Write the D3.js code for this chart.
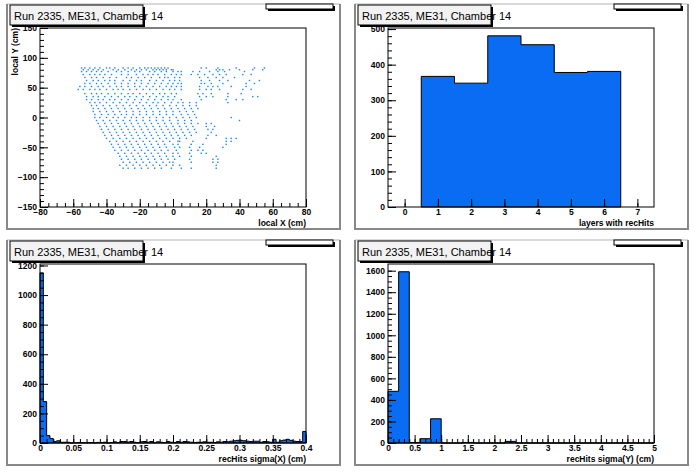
<!DOCTYPE html>
<html><head><meta charset="utf-8">
<script src="https://cdn.jsdelivr.net/npm/d3@7"></script>
<style>body{margin:0;background:#fff}svg{display:block}text{font-family:"Liberation Sans",Arial,sans-serif}</style>
</head><body>
<script>
const titleText = "Run 2335, ME31, Chamber 14";
// Scatter: rows of y with x values
const scatterRows = [
 [83,[-55,-53,-50,-47,-44,-40,-38,-35,-30,-27,-24,-20,-17,-15,-13,-11,-9,-7,-5,-3,17,20,27,38,49,55]],
 [80,[-54,-51,-48,-45,-42,-36,-33,-29,-25,-22,-19,-16,-12,-10,-8,-6,-4,-1,0,26,28,30,34,40,48,54]],
 [77,[-55,-52,-49,-46,-43,-39,-34,-31,-27,-23,-20,-14,-11,-7,-4,0,3,5,12,16,22,27,31,43]],
 [72,[-54,-50,-47,-44,-41,-37,-31,-27,-22,-18,-15,-12,-9,-5,-1,2,5,11,15,19,24,28,32,42,47]],
 [67,[-53,-49,-46,-42,-38,-34,-28,-25,-21,-17,-13,-8,-5,-3,1,4,16,21,26,30,37]],
 [62,[-52,-48,-45,-41,-38,-35,-30,-26,-22,-19,-14,-10,-6,-2,1,4,17,22,28,33,46,52]],
 [57,[-53,-50,-46,-43,-39,-35,-31,-27,-23,-19,-15,-11,-7,-3,0,3,5,17,19,23,30,44,49]],
 [52,[-56,-53,-49,-45,-42,-38,-34,-31,-27,-23,-20,-16,-12,-8,-4,-1,2,5,16,21,24,27,35,44]],
 [47,[-57,-54,-50,-47,-44,-40,-36,-33,-30,-26,-22,-18,-14,-10,-6,-2,1,5,16,20,23,28,42,47]],
 [40,[-53,-49,-46,-43,-39,-35,-31,-27,-24,-20,-16,-12,-8,-5,-1,2,15,18,23,33,41]],
 [35,[-52,-48,-45,-41,-37,-33,-29,-26,-22,-18,-14,-10,-6,-3,1,16,20,24,33,48,51]],
 [30,[-52,-49,-45,-42,-38,-35,-31,-27,-23,-19,-15,-11,-7,-3,0,5,17,32,38,42]],
 [25,[-50,-47,-44,-40,-36,-32,-28,-24,-20,-16,-12,-9,-5,-1,3,6,10,14,33]],
 [20,[-49,-46,-42,-38,-34,-30,-26,-22,-18,-14,-10,-6,-2,2,6,10,14]],
 [15,[-48,-45,-41,-37,-33,-29,-25,-21,-17,-13,-9,-5,-1,3,7,11,15]],
 [10,[-48,-44,-40,-36,-32,-28,-24,-20,-16,-12,-8,-4,0,4,8,12]],
 [5,[-47,-43,-39,-35,-31,-28,-24,-20,-16,-12,-8,-4,0,5,9,13]],
 [0,[-47,-44,-40,-36,-33,-29,-25,-22,-18,-14,-10,-6,-2,2,6,10,14,35]],
 [-5,[-46,-42,-38,-34,-30,-26,-22,-18,-14,-10,-6,-2,3,7,11,40]],
 [-10,[-45,-41,-37,-33,-29,-25,-21,-17,-13,-9,-5,-1,3,7,11,15,20,23]],
 [-15,[-44,-40,-36,-32,-28,-24,-20,-16,-12,-8,-4,0,4,8,12,20,25]],
 [-20,[-43,-39,-35,-31,-27,-23,-19,-15,-11,-7,-3,1,5,9,13,21,24]],
 [-25,[-42,-38,-34,-30,-26,-22,-18,-14,-10,-6,-2,2,6,10,14,23]],
 [-30,[-41,-37,-33,-29,-25,-21,-17,-13,-9,-5,-1,3,7,11,21,26]],
 [-35,[-40,-36,-32,-28,-24,-20,-16,-12,-8,-4,0,4,8,20,32,35,38]],
 [-40,[-38,-34,-30,-26,-22,-18,-14,-10,-6,-2,3,4,12,32,35]],
 [-45,[-37,-33,-29,-25,-21,-17,-13,-9,-5,0,3,11,18,32]],
 [-50,[-36,-32,-28,-24,-20,-16,-12,-8,-4,1,4,10,16,30]],
 [-55,[-35,-31,-27,-23,-19,-15,-11,-7,-3,2,11,15,18]],
 [-60,[-33,-29,-25,-21,-17,-13,-9,-5,0,3,10,17,20]],
 [-65,[-32,-28,-24,-20,-16,-12,-8,-4,0,4,11,26]],
 [-70,[-31,-27,-23,-19,-15,-11,-7,-3,1,10,24,27]],
 [-75,[-30,-26,-22,-18,-14,-10,-6,-2,0,11,24,27]],
 [-80,[-32,-28,-24,-20,-16,-12,-8,-4,0,4,26]],
 [-85,[-30,-27,-23,-19,-15,-11,-7,-1,5,11,26]]
];
const layerBins = [0,1,2,3,4,5,6,7];
const layerCounts = [0,367,348,481,456,378,381,0];
const sigmaXCounts = [1150,280,50,30,10,15,5,5,5,0, 2,3,2,2,3,3,0,4,3,5, 0,3,8,3,10,10,6,10,5,3,
 8,10,5,10,3,8,5,3,10,5, 3,10,5,10,8,5,3,5,5,8, 5,5,3,8,5,10,8,12,15,18,
 18,15,12,10,12,12,5,10,8,5, 25,5,15,20,25,18,12,10,10,78];
const sigmaYCounts = [480,1590,5,40,225,0,0,5,0,0,0,15,0,0,0,0,0,0,0,0,0,0,0,0,0];
const xTicksScatter = [-80,-60,-40,-20,0,20,40,60,80];
const yTicksScatter = [-150,-100,-50,0,50,100,150];

const BLUE = "#0a6cf2";
const svg = d3.select("body").append("svg").attr("width",696).attr("height",472);

function pad(ox, oy){
  const g = svg.append("g").attr("transform",`translate(${ox},${oy})`);
  g.append("line").attr("x1",7).attr("x2",340).attr("y1",4).attr("y2",4).attr("stroke","#ccc").attr("stroke-width",1.5);
  g.append("path").attr("d","M7,4V229H340V4").attr("fill","none").attr("stroke","#888").attr("stroke-width",2);
  return g;
}
function decorate(g){
  g.append("rect").attr("x",268).attr("y",6).attr("width",67).attr("height",5).attr("fill","#000");
  g.append("rect").attr("x",266).attr("y",4).attr("width",67).attr("height",5).attr("fill","#fff").attr("stroke","#000").attr("stroke-width",1);
  g.append("rect").attr("x",12).attr("y",7).attr("width",133).attr("height",20).attr("fill","#000");
  g.append("rect").attr("x",10).attr("y",5).attr("width",133).attr("height",20).attr("fill","#f2f2f2").attr("stroke","#000").attr("stroke-width",1);
  g.append("text").attr("x",14).attr("y",19.5).attr("font-size",11).text(titleText);
}
const F = {l:40,r:306,t:28,b:207};
function axes(g, x, y, xt, yt, xTitle, yTitle, xfmt, yfmt, xminor, yminor){
  g.append("rect").attr("x",F.l).attr("y",F.t).attr("width",F.r-F.l).attr("height",F.b-F.t).attr("fill","none").attr("stroke","#000").attr("stroke-width",1);
  const ax = g.append("g").attr("transform",`translate(0,${F.b})`).call(d3.axisBottom(x).tickValues(xt).tickSize(-8).tickFormat(xfmt).tickPadding(2));
  const ay = g.append("g").attr("transform",`translate(${F.l},0)`).call(d3.axisLeft(y).tickValues(yt).tickSize(-8).tickFormat(yfmt).tickPadding(3));
  [ax,ay].forEach(a=>{a.select(".domain").remove();a.selectAll("text").attr("font-size",8.5).attr("font-weight","bold").attr("fill","#000").style("font-family","Liberation Sans, Arial");a.selectAll("line").attr("stroke","#000");});
  const xm = g.append("g").attr("transform",`translate(0,${F.b})`).call(d3.axisBottom(x).tickValues(xminor).tickSize(-4).tickFormat(""));
  xm.select(".domain").remove();
  const ym = g.append("g").attr("transform",`translate(${F.l},0)`).call(d3.axisLeft(y).tickValues(yminor).tickSize(-4).tickFormat(""));
  ym.select(".domain").remove();
  g.append("text").attr("x",F.r).attr("y",F.b+19).attr("text-anchor","end").attr("font-size",8.5).attr("font-weight","bold").text(xTitle);
  if(yTitle) g.append("text").attr("transform",`translate(18,${F.t}) rotate(-90)`).attr("text-anchor","end").attr("font-size",8.5).attr("font-weight","bold").text(yTitle);
}
function range(a,b,s){const r=[];for(let v=a;v<=b+1e-9;v+=s)r.push(+v.toFixed(6));return r;}

{
  const g = pad(0,0);
  const x = d3.scaleLinear().domain([-80,80]).range([F.l,F.r]);
  const y = d3.scaleLinear().domain([-150,150]).range([F.b,F.t]);
  const pts = scatterRows.flatMap(([yy,xs])=>xs.map(xx=>[xx,yy]));
  g.selectAll(".pt").data(pts).join("rect").attr("x",d=>x(d[0])-0.7).attr("y",d=>y(d[1])-0.7).attr("width",1.4).attr("height",1.4).attr("fill","#1a84f4");
  axes(g,x,y,xTicksScatter,yTicksScatter,"local X (cm)","local Y (cm)",d3.format("d"),d3.format("d"),range(-80,80,5),range(-150,150,10));
  decorate(g);
}
function hist(g, x, y, edges, counts){
  let d = `M${x(edges[0])},${y(0)}`;
  counts.forEach((c,i)=>{ d += `V${y(c)}H${x(edges[i+1])}`; });
  d += `V${y(0)}Z`;
  g.append("path").attr("d",d).attr("fill",BLUE).attr("stroke","#000").attr("stroke-width",1);
}
{
  const g = pad(348,0);
  const x = d3.scaleLinear().domain([-0.5,7.5]).range([F.l,F.r]);
  const y = d3.scaleLinear().domain([0,503]).range([F.b,F.t]);
  const nz = layerBins.filter((b,i)=>layerCounts[i]>0);
  const edges = [nz[0]-0.5, ...nz.map(b=>b+0.5)];
  hist(g,x,y,edges,nz.map(b=>layerCounts[layerBins.indexOf(b)]));
  axes(g,x,y,layerBins,range(0,500,100),"layers with recHits",null,d3.format("d"),d3.format("d"),layerBins,range(0,500,20));
  decorate(g);
}
{
  const g = pad(0,236);
  const x = d3.scaleLinear().domain([0,0.4]).range([F.l,F.r]);
  const y = d3.scaleLinear().domain([0,1210]).range([F.b,F.t]);
  hist(g,x,y,sigmaXCounts.map((c,i)=>i*0.005).concat([0.4]),sigmaXCounts);
  axes(g,x,y,range(0,0.4,0.05),range(0,1200,200),"recHits sigma(X) (cm)",null,d=>d===0?"0":String(d),d3.format("d"),range(0,0.4,0.01),range(0,1200,50));
  decorate(g);
}
{
  const g = pad(348,236);
  const x = d3.scaleLinear().domain([0,5]).range([F.l,F.r]);
  const y = d3.scaleLinear().domain([0,1662]).range([F.b,F.t]);
  hist(g,x,y,sigmaYCounts.map((c,i)=>i*0.2).concat([5]),sigmaYCounts);
  axes(g,x,y,range(0,5,0.5),range(0,1600,200),"recHits sigma(Y) (cm)",null,d=>String(d),d3.format("d"),range(0,5,0.1),range(0,1600,50));
  decorate(g);
}
</script>
</body></html>
